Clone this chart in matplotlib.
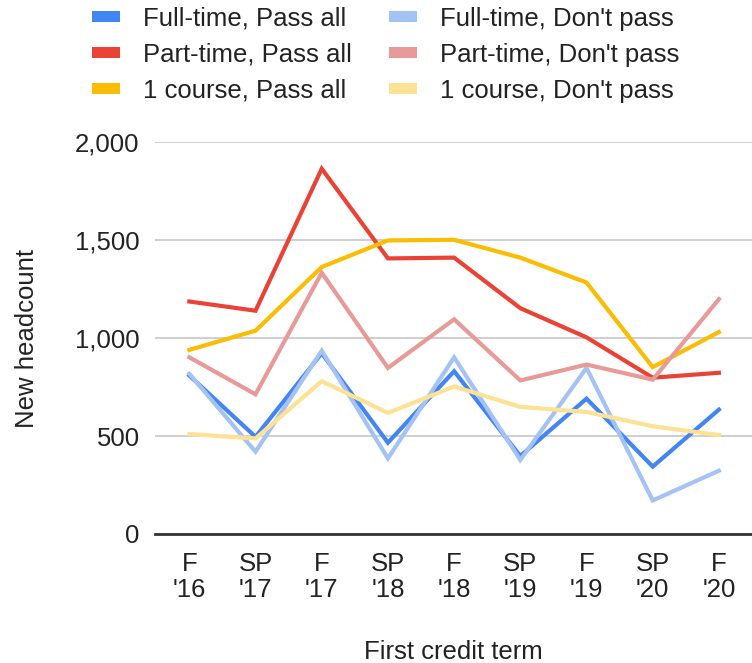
import matplotlib
matplotlib.use("Agg")
import matplotlib.pyplot as plt
from matplotlib.patches import Patch

plt.rcParams['font.family'] = ['Liberation Sans', 'DejaVu Sans']

terms = ["F\n'16", "SP\n'17", "F\n'17", "SP\n'18", "F\n'18", "SP\n'19", "F\n'19", "SP\n'20", "F\n'20"]

ft_pass = [809, 496, 923, 466, 831, 398, 691, 344, 635]
ft_nopass = [818, 420, 936, 386, 902, 378, 848, 171, 323]
pt_pass = [1187, 1140, 1865, 1407, 1411, 1153, 1004, 798, 823]
pt_nopass = [902, 713, 1334, 848, 1096, 784, 865, 788, 1199]
c1_pass = [940, 1038, 1363, 1499, 1502, 1411, 1284, 852, 1031]
c1_nopass = [510, 488, 780, 618, 753, 649, 623, 550, 505]

series = [
    ("Full-time, Pass all", ft_pass, "#4285f4"),
    ("Part-time, Pass all", pt_pass, "#ea4335"),
    ("1 course, Pass all", c1_pass, "#fbbc04"),
    ("Full-time, Don't pass", ft_nopass, "#a4c2f4"),
    ("Part-time, Don't pass", pt_nopass, "#e89a98"),
    ("1 course, Don't pass", c1_nopass, "#fde293"),
]

FS = 18.5
TXT = '#222222'

fig = plt.figure(figsize=(7.52, 6.63), dpi=100)
ax = fig.add_axes([0.206, 0.1946, 0.794, 0.5908])

x = list(range(len(terms)))
draw_order = [3, 0, 5, 4, 1, 2]
for i in draw_order:
    name, vals, col = series[i]
    ax.plot(x, vals, color=col, lw=3.0, solid_joinstyle='miter', zorder=3 + i * 0.1)

ax.set_xlim(-0.52, 8.5)
ax.set_ylim(0, 2000)
ax.set_yticks([0, 500, 1000, 1500, 2000])
ax.set_yticklabels(["0", "500", "1,000", "1,500", "2,000"])
ax.set_xticks(x)
ax.set_xticklabels(terms)
for lbl in ax.get_xticklabels():
    lbl.set_linespacing(1.12)
ax.tick_params(axis='both', length=0, labelsize=FS, colors=TXT)
ax.tick_params(axis='x', pad=13)
ax.tick_params(axis='y', pad=11)
ax.grid(axis='y', color='#cccccc', lw=1.3, zorder=0)
for s in ['top', 'right', 'left']:
    ax.spines[s].set_visible(False)
ax.spines['bottom'].set_color('#333333')
ax.spines['bottom'].set_linewidth(2)
ax.spines['bottom'].set_zorder(5)

ax.set_ylabel("New headcount", fontsize=FS, color=TXT, labelpad=26)
ax.set_xlabel("First credit term", fontsize=FS, color=TXT, labelpad=27)

handles = [Patch(facecolor=c, edgecolor='none') for _, _, c in series]
labels = [n for n, _, _ in series]
fig.legend(handles, labels, ncol=2, loc='upper left', bbox_to_anchor=(0.091, 1.025),
           frameon=False, fontsize=FS, handlelength=1.1, handleheight=0.3,
           columnspacing=1.45, labelspacing=0.47, handletextpad=0.9, labelcolor=TXT)

fig.savefig("out.png", dpi=100)
